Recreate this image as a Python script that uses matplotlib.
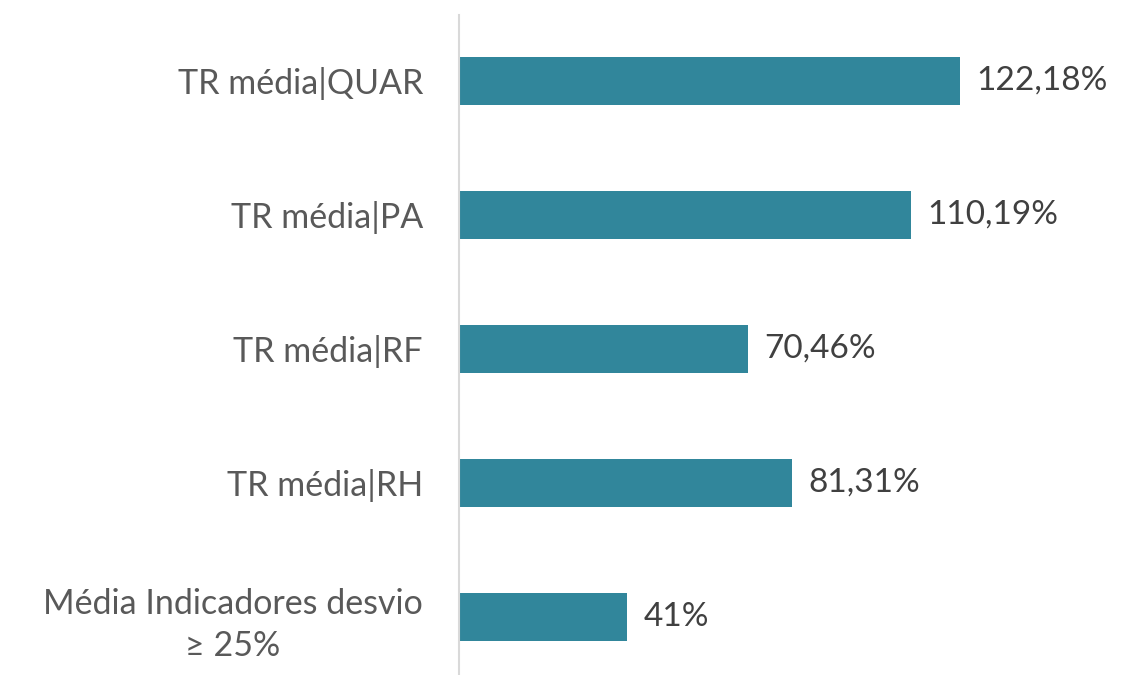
import matplotlib
matplotlib.use("Agg")
import matplotlib.pyplot as plt

categorias = ["Média Indicadores desvio\n≥ 25%", "TR média|RH", "TR média|RF", "TR média|PA", "TR média|QUAR"]
valores = [41, 81.31, 70.46, 110.19, 122.18]
rotulos = ["41%", "81,31%", "70,46%", "110,19%", "122,18%"]

plt.rcParams['font.family'] = ['Lato', 'DejaVu Sans']

fig = plt.figure(figsize=(11.26, 6.75), dpi=100)
ax = fig.add_axes([459/1126, 0, 641/1126, 660/675])

pos = list(range(len(categorias)))
ax.barh(pos, valores, height=0.36, color="#31869b")

for p, v, r in zip(pos, valores, rotulos):
    ax.text(v + 4, p, r, va="center", ha="left", fontsize=24, color="#404040")

ax.set_yticks(pos)
ax.set_yticklabels(categorias, fontsize=24.5, color="#595959", linespacing=1.4)
for lbl in ax.get_yticklabels():
    lbl.set_horizontalalignment("right")
    lbl.set_multialignment("center")
ax.tick_params(axis="y", length=0, pad=26)
ax.set_xticks([])
ax.set_xlim(0, 641/4.1)
ax.set_ylim(-0.433, 4.4925)

for s in ["top", "right", "bottom"]:
    ax.spines[s].set_visible(False)
ax.spines["left"].set_color("#d9d9d9")
ax.spines["left"].set_linewidth(1.5)

fig.savefig("out.png", dpi=100)
